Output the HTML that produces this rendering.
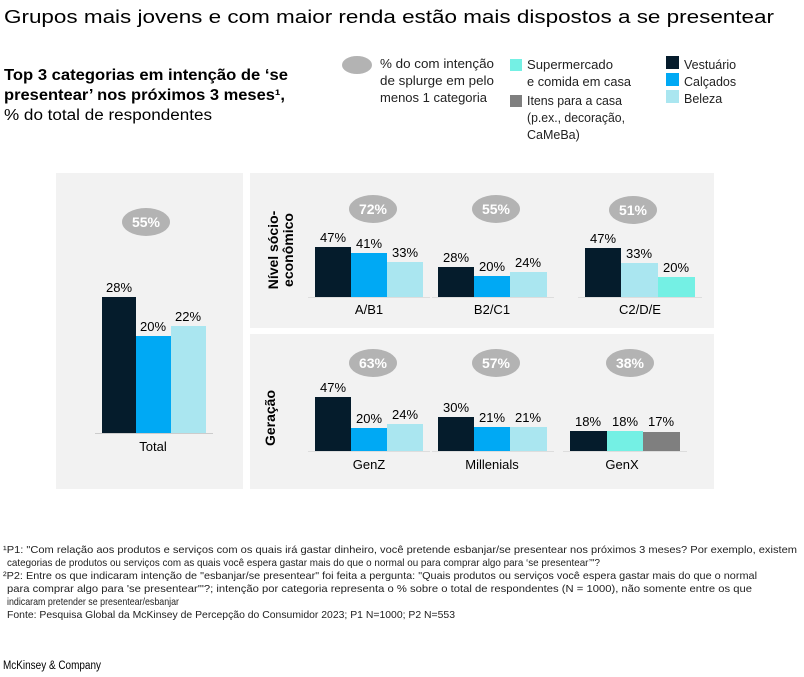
<!DOCTYPE html>
<html><head><meta charset="utf-8"><style>
body{margin:0;background:#fff;}
svg{display:block;font-family:"Liberation Sans",sans-serif;}
</style></head><body>
<svg width="804" height="677" viewBox="0 0 804 677" xmlns="http://www.w3.org/2000/svg">
<text x="4" y="23" font-size="18.5" fill="#000" textLength="770" lengthAdjust="spacingAndGlyphs">Grupos mais jovens e com maior renda estão mais dispostos a se presentear</text>
<text x="4" y="80" font-size="15.5" font-weight="bold" textLength="284" lengthAdjust="spacingAndGlyphs">Top 3 categorias em intenção de ‘se</text>
<text x="4" y="100" font-size="15.5" font-weight="bold" textLength="281" lengthAdjust="spacingAndGlyphs">presentear’ nos próximos 3 meses¹,</text>
<text x="4" y="120" font-size="15.5" textLength="208" lengthAdjust="spacingAndGlyphs">% do total de respondentes</text>

<g font-size="12.5" fill="#222">
<ellipse cx="357" cy="65" rx="15" ry="9" fill="#b3b3b3"/>
<text x="380" y="68" textLength="114" lengthAdjust="spacingAndGlyphs">% do com intenção</text>
<text x="380" y="85" textLength="114" lengthAdjust="spacingAndGlyphs">de splurge em pelo</text>
<text x="380" y="102" textLength="107" lengthAdjust="spacingAndGlyphs">menos 1 categoria</text>
<rect x="510" y="59" width="12" height="12" fill="#74f0e4"/>
<text x="527" y="69" textLength="86" lengthAdjust="spacingAndGlyphs">Supermercado</text>
<text x="527" y="86" textLength="104" lengthAdjust="spacingAndGlyphs">e comida em casa</text>
<rect x="510" y="95" width="12" height="12" fill="#7f7f7f"/>
<text x="527" y="105" textLength="95" lengthAdjust="spacingAndGlyphs">Itens para a casa</text>
<text x="527" y="122" textLength="98" lengthAdjust="spacingAndGlyphs">(p.ex., decoração,</text>
<text x="527" y="139">CaMeBa)</text>
<rect x="666" y="56" width="13" height="13" fill="#051c2c"/>
<text x="684" y="69">Vestuário</text>
<rect x="666" y="73" width="13" height="13" fill="#00a9f4"/>
<text x="684" y="86">Calçados</text>
<rect x="666" y="90" width="13" height="13" fill="#aae6f0"/>
<text x="684" y="103">Beleza</text>
</g>

<rect x="56" y="173" width="187" height="316" fill="#f2f2f2"/>
<rect x="250" y="173" width="464" height="155" fill="#f2f2f2"/>
<rect x="250" y="334" width="464" height="155" fill="#f2f2f2"/>

<g font-size="13" fill="#000">
<line x1="95" y1="433.5" x2="213" y2="433.5" stroke="#ccc"/>
<rect x="102" y="297" width="34" height="136" fill="#051c2c"/>
<rect x="136" y="336" width="35" height="97" fill="#00a9f4"/>
<rect x="171" y="326" width="35" height="107" fill="#aae6f0"/>
<text x="119" y="292" text-anchor="middle">28%</text>
<text x="153" y="331" text-anchor="middle">20%</text>
<text x="188" y="321" text-anchor="middle">22%</text>
<text x="153" y="451" text-anchor="middle">Total</text>
<ellipse cx="146" cy="222" rx="24" ry="14" fill="#b3b3b3"/>
<text x="146" y="227" text-anchor="middle" fill="#fff" font-weight="bold" font-size="14">55%</text>

<text transform="translate(278,250) rotate(-90)" text-anchor="middle" font-weight="bold" font-size="14">Nível sócio-</text>
<text transform="translate(293,250) rotate(-90)" text-anchor="middle" font-weight="bold" font-size="14">econômico</text>
<text transform="translate(275,418) rotate(-90)" text-anchor="middle" font-weight="bold" font-size="14">Geração</text>

<g>
<line x1="308" y1="297.5" x2="430" y2="297.5" stroke="#ddd"/>
<line x1="432" y1="297.5" x2="554" y2="297.5" stroke="#ddd"/>
<line x1="578" y1="297.5" x2="702" y2="297.5" stroke="#ddd"/>
<rect x="315" y="247" width="36" height="50" fill="#051c2c"/>
<rect x="351" y="253" width="36" height="44" fill="#00a9f4"/>
<rect x="387" y="262" width="36" height="35" fill="#aae6f0"/>
<text x="333" y="242" text-anchor="middle">47%</text>
<text x="369" y="248" text-anchor="middle">41%</text>
<text x="405" y="257" text-anchor="middle">33%</text>
<text x="369" y="314" text-anchor="middle">A/B1</text>
<rect x="438" y="267" width="36" height="30" fill="#051c2c"/>
<rect x="474" y="276" width="36" height="21" fill="#00a9f4"/>
<rect x="510" y="272" width="37" height="25" fill="#aae6f0"/>
<text x="456" y="262" text-anchor="middle">28%</text>
<text x="492" y="271" text-anchor="middle">20%</text>
<text x="528" y="267" text-anchor="middle">24%</text>
<text x="492" y="314" text-anchor="middle">B2/C1</text>
<rect x="585" y="248" width="36" height="49" fill="#051c2c"/>
<rect x="621" y="263" width="37" height="34" fill="#aae6f0"/>
<rect x="658" y="277" width="37" height="20" fill="#74f0e4"/>
<text x="603" y="243" text-anchor="middle">47%</text>
<text x="639" y="258" text-anchor="middle">33%</text>
<text x="676" y="272" text-anchor="middle">20%</text>
<text x="640" y="314" text-anchor="middle">C2/D/E</text>
</g>
<g fill="#fff" font-weight="bold" font-size="14" text-anchor="middle">
<ellipse cx="373" cy="209" rx="24" ry="14" fill="#b3b3b3"/><text x="373" y="214">72%</text>
<ellipse cx="496" cy="209" rx="24" ry="14" fill="#b3b3b3"/><text x="496" y="214">55%</text>
<ellipse cx="633" cy="210" rx="24" ry="14" fill="#b3b3b3"/><text x="633" y="215">51%</text>
<ellipse cx="373" cy="363" rx="24" ry="14" fill="#b3b3b3"/><text x="373" y="368">63%</text>
<ellipse cx="496" cy="363" rx="24" ry="14" fill="#b3b3b3"/><text x="496" y="368">57%</text>
<ellipse cx="630" cy="363" rx="24" ry="14" fill="#b3b3b3"/><text x="630" y="368">38%</text>
</g>

<g>
<line x1="308" y1="451.5" x2="430" y2="451.5" stroke="#ddd"/>
<line x1="432" y1="451.5" x2="554" y2="451.5" stroke="#ddd"/>
<line x1="563" y1="451.5" x2="687" y2="451.5" stroke="#ddd"/>
<rect x="315" y="397" width="36" height="54" fill="#051c2c"/>
<rect x="351" y="428" width="36" height="23" fill="#00a9f4"/>
<rect x="387" y="424" width="36" height="27" fill="#aae6f0"/>
<text x="333" y="392" text-anchor="middle">47%</text>
<text x="369" y="423" text-anchor="middle">20%</text>
<text x="405" y="419" text-anchor="middle">24%</text>
<text x="369" y="469" text-anchor="middle">GenZ</text>
<rect x="438" y="417" width="36" height="34" fill="#051c2c"/>
<rect x="474" y="427" width="36" height="24" fill="#00a9f4"/>
<rect x="510" y="427" width="37" height="24" fill="#aae6f0"/>
<text x="456" y="412" text-anchor="middle">30%</text>
<text x="492" y="422" text-anchor="middle">21%</text>
<text x="528" y="422" text-anchor="middle">21%</text>
<text x="492" y="469" text-anchor="middle">Millenials</text>
<rect x="570" y="431" width="37" height="20" fill="#051c2c"/>
<rect x="607" y="431" width="36" height="20" fill="#74f0e4"/>
<rect x="643" y="432" width="37" height="19" fill="#7f7f7f"/>
<text x="588" y="426" text-anchor="middle">18%</text>
<text x="625" y="426" text-anchor="middle">18%</text>
<text x="661" y="426" text-anchor="middle">17%</text>
<text x="622" y="469" text-anchor="middle">GenX</text>
</g>
</g>

<g font-size="10.5" fill="#222">
<text x="3" y="553" textLength="794" lengthAdjust="spacingAndGlyphs">¹P1: "Com relação aos produtos e serviços com os quais irá gastar dinheiro, você pretende esbanjar/se presentear nos próximos 3 meses? Por exemplo, existem</text>
<text x="7" y="566" textLength="593" lengthAdjust="spacingAndGlyphs">categorias de produtos ou serviços com as quais você espera gastar mais do que o normal ou para comprar algo para ‘se presentear’"?</text>
<text x="3" y="579" textLength="754" lengthAdjust="spacingAndGlyphs">²P2: Entre os que indicaram intenção de "esbanjar/se presentear" foi feita a pergunta: "Quais produtos ou serviços você espera gastar mais do que o normal</text>
<text x="7" y="592" textLength="745" lengthAdjust="spacingAndGlyphs">para comprar algo para 'se presentear'"?; intenção por categoria representa o % sobre o total de respondentes (N = 1000), não somente entre os que</text>
<text x="7" y="605" textLength="172" lengthAdjust="spacingAndGlyphs">indicaram pretender se presentear/esbanjar</text>
<text x="7" y="618" textLength="448" lengthAdjust="spacingAndGlyphs">Fonte: Pesquisa Global da McKinsey de Percepção do Consumidor 2023; P1 N=1000; P2 N=553</text>
</g>
<text x="3" y="669" font-size="11.5" fill="#000" textLength="98" lengthAdjust="spacingAndGlyphs">McKinsey &amp; Company</text>
</svg>
</body></html>
